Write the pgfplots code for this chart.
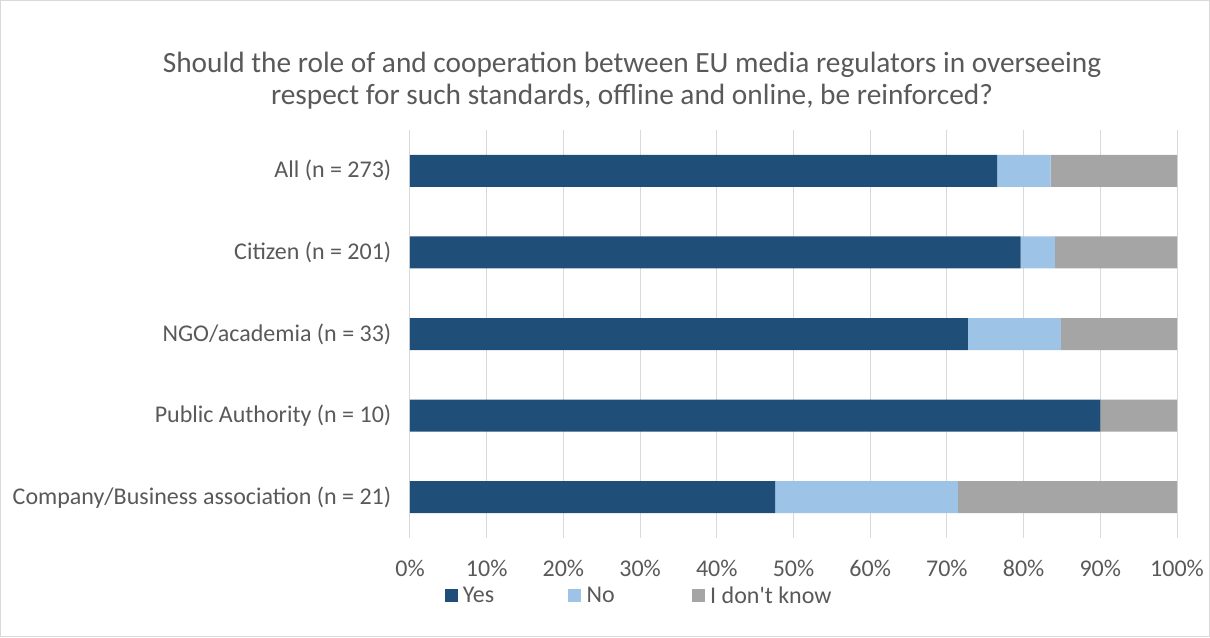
\documentclass[border=0pt]{standalone}
\usepackage{pgfplots}
\pgfplotsset{compat=1.18}
\usepackage{fontspec}
\setmainfont{Carlito}
\definecolor{yescol}{HTML}{1F4E79}
\definecolor{nocol}{HTML}{9DC3E6}
\definecolor{idkcol}{HTML}{A5A5A5}
\definecolor{txt}{HTML}{595959}
\definecolor{gridc}{HTML}{D9D9D9}
\definecolor{frame}{HTML}{D9D9D9}
\begin{document}
\begin{tikzpicture}
\draw[draw=frame, line width=0.75pt] (0.375pt,0.375pt) rectangle (907.125pt,477.375pt);
\node[text=txt, font=\fontsize{22}{24}\selectfont, align=center] at (474pt,417pt)
  {Should the role of and cooperation between EU media regulators in overseeing\\respect for such standards, offline and online, be reinforced?};
\begin{axis}[
  at={(307.5pt,74.25pt)}, anchor=south west,
  scale only axis, width=575.25pt, height=306pt,
  xbar stacked, bar width=24pt,
  xmin=0, xmax=100, ymin=-0.5, ymax=4.5, y dir=reverse,
  ytick={0,1,2,3,4},
  yticklabels={All (n = 273),Citizen (n = 201),NGO/academia (n = 33),Public Authority (n = 10),Company/Business association (n = 21)},
  xtick={0,10,...,100},
  xticklabel={\pgfmathprintnumber{\tick}\%},
  /pgf/number format/assume math mode=true,
  xmajorgrids, major grid style={draw=gridc, line width=0.75pt},
  axis line style={draw=none}, tick style={draw=none},
  ticklabel style={font=\fontsize{18}{20}\selectfont, text=txt},
  xticklabel style={yshift=-13pt},
  yticklabel style={xshift=-10.5pt},
  legend columns=3,
  legend style={at={(0.045,-0.142)}, anchor=west, draw=none, fill=none,
    font=\fontsize{18}{20}\selectfont, text=txt,
    /tikz/every even column/.append style={column sep=0pt},
    inner sep=0pt, outer sep=0pt},
  legend image code/.code={\fill[#1,draw=none] (0pt,-4.9pt) rectangle (9.75pt,4.9pt);},
]
\addplot[fill=yescol, draw=none] coordinates {(76.56,0) (79.60,1) (72.73,2) (90,3) (47.62,4)};
\addlegendentry{\hspace{2pt}\makebox[77pt][l]{Yes}}
\addplot[fill=nocol, draw=none] coordinates {(6.96,0) (4.48,1) (12.12,2) (0,3) (23.81,4)};
\addlegendentry{\hspace{2pt}\makebox[77pt][l]{No}}
\addplot[fill=idkcol, draw=none] coordinates {(16.48,0) (15.92,1) (15.15,2) (10,3) (28.57,4)};
\addlegendentry{\hspace{2pt}I don\textquotesingle t know}
\end{axis}
\end{tikzpicture}
\end{document}
